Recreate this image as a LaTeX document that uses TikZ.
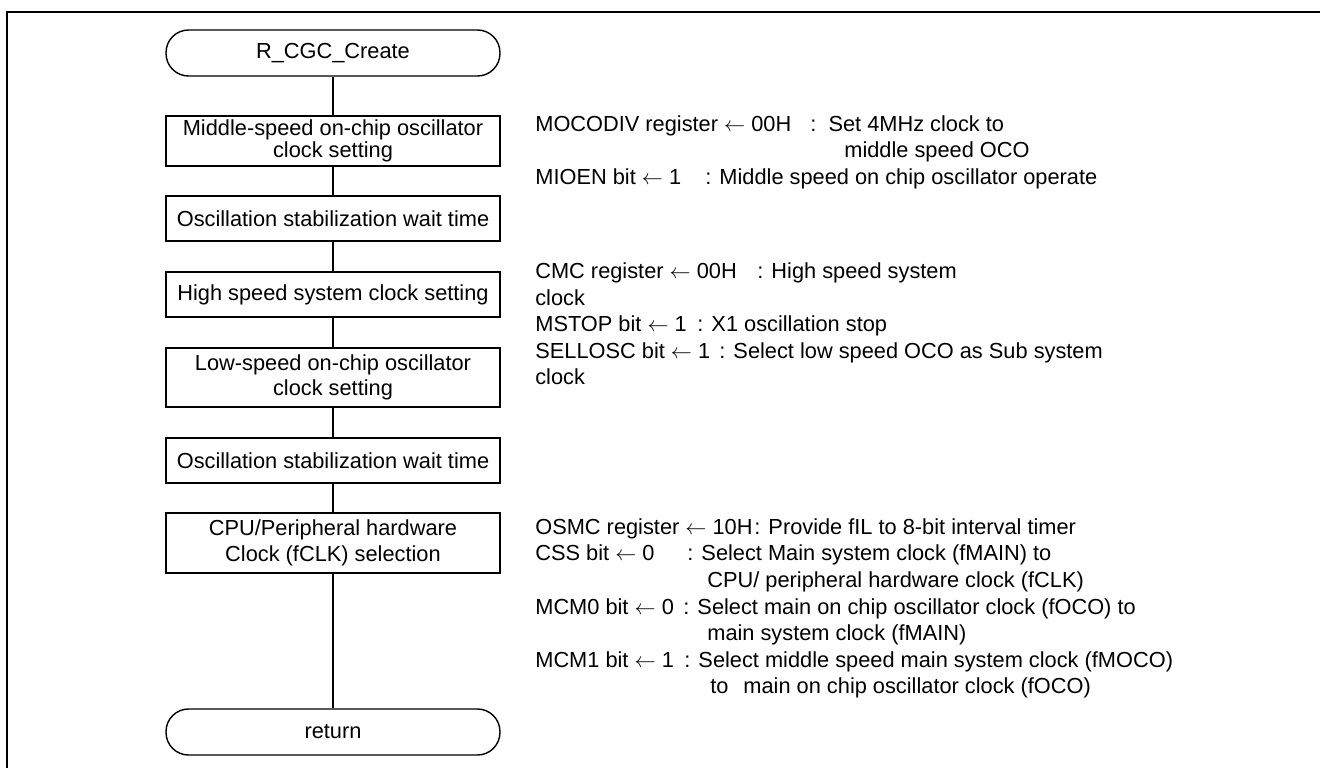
\documentclass[tikz,border=0pt]{standalone}
\usepackage{fontspec}
\setmainfont{Liberation Sans}
\usetikzlibrary{positioning}
\newcommand{\assign}{\ensuremath{\leftarrow}}

\begin{document}
\begin{tikzpicture}[x=0.02cm,y=-0.02cm,
        box/.style={draw,line width=0.8pt,minimum width=6.68cm,inner sep=0pt,align=center,
            font=\fontsize{12.4pt}{14.6pt}\selectfont},
        terminal/.style={box,rounded corners=0.45cm,minimum height=0.92cm},
        note/.style={anchor=base west,inner sep=0pt,font=\fontsize{12.4pt}{15.1pt}\selectfont},
        link/.style={line width=0.8pt}]

        \useasboundingbox (0,0) rectangle (1320,768);

        %Frame
        \draw[line width=1.3pt] (7,768) -- (7,12) -- (1320,12);

        %Flow
        \node[terminal] (start) at (333,53) {R\_CGC\_Create};
        \node[box,minimum height=1.0cm,font=\fontsize{12.4pt}{11.4pt}\selectfont] (moco) at (333,141) {Middle-speed on-chip oscillator\\clock setting};
        \node[box,minimum height=0.9cm] (wait1) at (333,218.5) {Oscillation stabilization wait time};
        \node[box,minimum height=0.9cm] (hsys) at (333,294.5) {High speed system clock setting};
        \node[box,minimum height=1.18cm] (loco) at (333,377.5) {Low-speed on-chip oscillator\\clock setting};
        \node[box,minimum height=0.9cm] (wait2) at (333,460.5) {Oscillation stabilization wait time};
        \node[box,minimum height=1.2cm] (fclk) at (333,543) {CPU/Peripheral hardware\\Clock (fCLK) selection};
        \node[terminal] (ret) at (333,732) {return};

        \draw[link] (start) -- (moco);
        \draw[link] (moco) -- (wait1);
        \draw[link] (wait1) -- (hsys);
        \draw[link] (hsys) -- (loco);
        \draw[link] (loco) -- (wait2);
        \draw[link] (wait2) -- (fclk);
        \draw[link] (fclk) -- (ret);

        %Notes: middle speed OCO
        \node[note] (mocodiv) at (535,131) {MOCODIV register \assign{} 00H};
        \node[note] (mocodivd) at (810,131) {:\ \ Set 4MHz clock to};
        \node[note] (mocodivc) at (844,157) {middle speed OCO};
        \node[note] (mioen) at (535,184) {MIOEN bit \assign{} 1};
        \node[note] (mioend) at (705,184) {: Middle speed on chip oscillator operate};

        %Notes: high / low speed
        \node[note] (cmc) at (535,278) {CMC register \assign{} 00H};
        \node[note] (cmcd) at (757,278) {: High speed system};
        \node[note] (cmcc) at (535,305) {clock};
        \node[note] (mstop) at (535,331) {MSTOP bit \assign{} 1};
        \node[note] (mstopd) at (697,331) {: X1 oscillation stop};
        \node[note] (sellosc) at (535,358) {SELLOSC bit \assign{} 1};
        \node[note] (sellosd) at (719,358) {: Select low speed OCO as Sub system};
        \node[note] (selloscc) at (535,384) {clock};

        %Notes: clock selection
        \node[note] (osmc) at (535,534) {OSMC register \assign{} 10H};
        \node[note] (osmcd) at (754,534) {: Provide fIL to 8-bit interval timer};
        \node[note] (css) at (535,560.6) {CSS bit \assign{} 0};
        \node[note] (cssd) at (687,560.6) {: Select Main system clock (fMAIN) to};
        \node[note] (cssc) at (707,587) {CPU/ peripheral hardware clock (fCLK)};
        \node[note] (mcmz) at (535,614) {MCM0 bit \assign{} 0};
        \node[note] (mcmzd) at (683,614) {: Select main on chip oscillator clock (fOCO) to};
        \node[note] (mcmzc) at (707,640) {main system clock (fMAIN)};
        \node[note] (mcmo) at (535,667) {MCM1 bit \assign{} 1};
        \node[note] (mcmod) at (684,667) {: Select middle speed main system clock (fMOCO)};
        \node[note] (mcmoc) at (710,693) {to\hspace{8.5pt}main on chip oscillator clock (fOCO)};

    \end{tikzpicture}
\end{document}
